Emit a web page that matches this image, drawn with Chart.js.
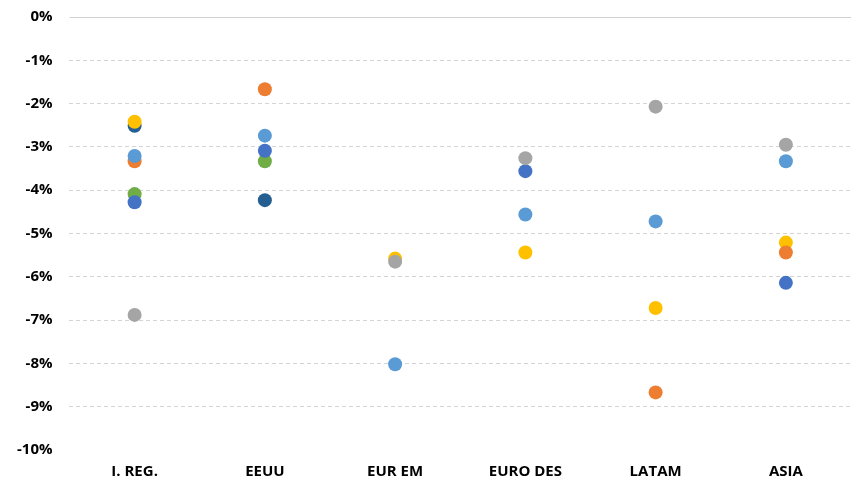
<!DOCTYPE html>
<html>
<head>
<meta charset="utf-8">
<style>
  html, body { margin: 0; padding: 0; background: #fff; }
  #wrap { width: 867px; height: 496px; }
</style>
<script src="https://cdn.jsdelivr.net/npm/chart.js@4/dist/chart.umd.min.js"></script>
</head>
<body>
<div id="wrap"><canvas id="chart"></canvas></div>
<script>
const categories = ['I. REG.', 'EEUU', 'EUR EM', 'EURO DES', 'LATAM', 'ASIA'];

// values in %, null where a region has no point
const lightBlue = [-3.21, -2.74, -8.02, -4.56, -4.72, -3.33];
const orange    = [-3.33, -1.67, null, null, -8.67, -5.44];
const gray      = [-6.88, null, -5.65, -3.26, -2.07, -2.95];
const yellow    = [-2.42, null, -5.58, -5.44, -6.72, -5.21];
const blue      = [-4.28, -3.09, null, -3.56, null, -6.14];
const green     = [-4.09, -3.33, null, null, null, null];
const darkBlue  = [-2.51, -4.23, null, null, null, null];

const yTicks = [0, -1, -2, -3, -4, -5, -6, -7, -8, -9, -10];

const font = { family: '"Open Sans", sans-serif', size: 15, weight: 'bold' };

function dots(data, color) {
    return {
        data: data,
        showLine: false,
        pointRadius: 7,
        pointHoverRadius: 7,
        pointBackgroundColor: color,
        pointBorderColor: color,
        pointBorderWidth: 0,
        borderColor: color,
        backgroundColor: color
    };
}

// solid line along the 0% tick, the other grid lines stay dashed
const zeroLine = {
    id: 'zeroLine',
    beforeDatasetsDraw(chart) {
        const y = chart.scales.y.getPixelForValue(0);
        const area = chart.chartArea;
        const c = chart.ctx;
        c.save();
        c.strokeStyle = '#d0d0d0';
        c.lineWidth = 1;
        c.beginPath();
        c.moveTo(area.left, Math.round(y) + 0.5);
        c.lineTo(area.right, Math.round(y) + 0.5);
        c.stroke();
        c.restore();
    }
};

const ctx = document.getElementById('chart').getContext('2d');
new Chart(ctx, {
    type: 'line',
    data: {
        labels: categories,
        datasets: [
            dots(lightBlue, '#5B9BD5'),
            dots(orange, '#ED7D31'),
            dots(gray, '#A5A5A5'),
            dots(yellow, '#FFC000'),
            dots(blue, '#4472C4'),
            dots(green, '#70AD47'),
            dots(darkBlue, '#255E91')
        ]
    },
    plugins: [zeroLine],
    options: {
        responsive: true,
        maintainAspectRatio: false,
        animation: false,
        layout: { padding: { left: 0, right: 16, top: 0, bottom: 2 } },
        plugins: {
            legend: { display: false },
            tooltip: { enabled: false }
        },
        scales: {
            x: {
                offset: true,
                grid: { display: false, drawTicks: false },
                border: { display: false },
                ticks: { color: '#000', font: font, padding: 13 }
            },
            y: {
                min: -10,
                max: 0,
                afterBuildTicks: axis => {
                    axis.ticks = yTicks.map(v => ({ value: v }));
                },
                afterFit: axis => {
                    axis.paddingTop = 17;
                    axis.paddingBottom = 9;
                },
                grid: {
                    drawTicks: false,
                    color: c => (c.tick && (c.tick.value === -10 || c.tick.value === 0)) ? 'rgba(0,0,0,0)' : '#d4d4d4',
                    lineWidth: 1
                },
                border: { display: false, dash: [4, 3] },
                ticks: {
                    color: '#000',
                    font: font,
                    padding: 17,
                    callback: v => v + '%'
                }
            }
        }
    }
});
</script>
</body>
</html>
